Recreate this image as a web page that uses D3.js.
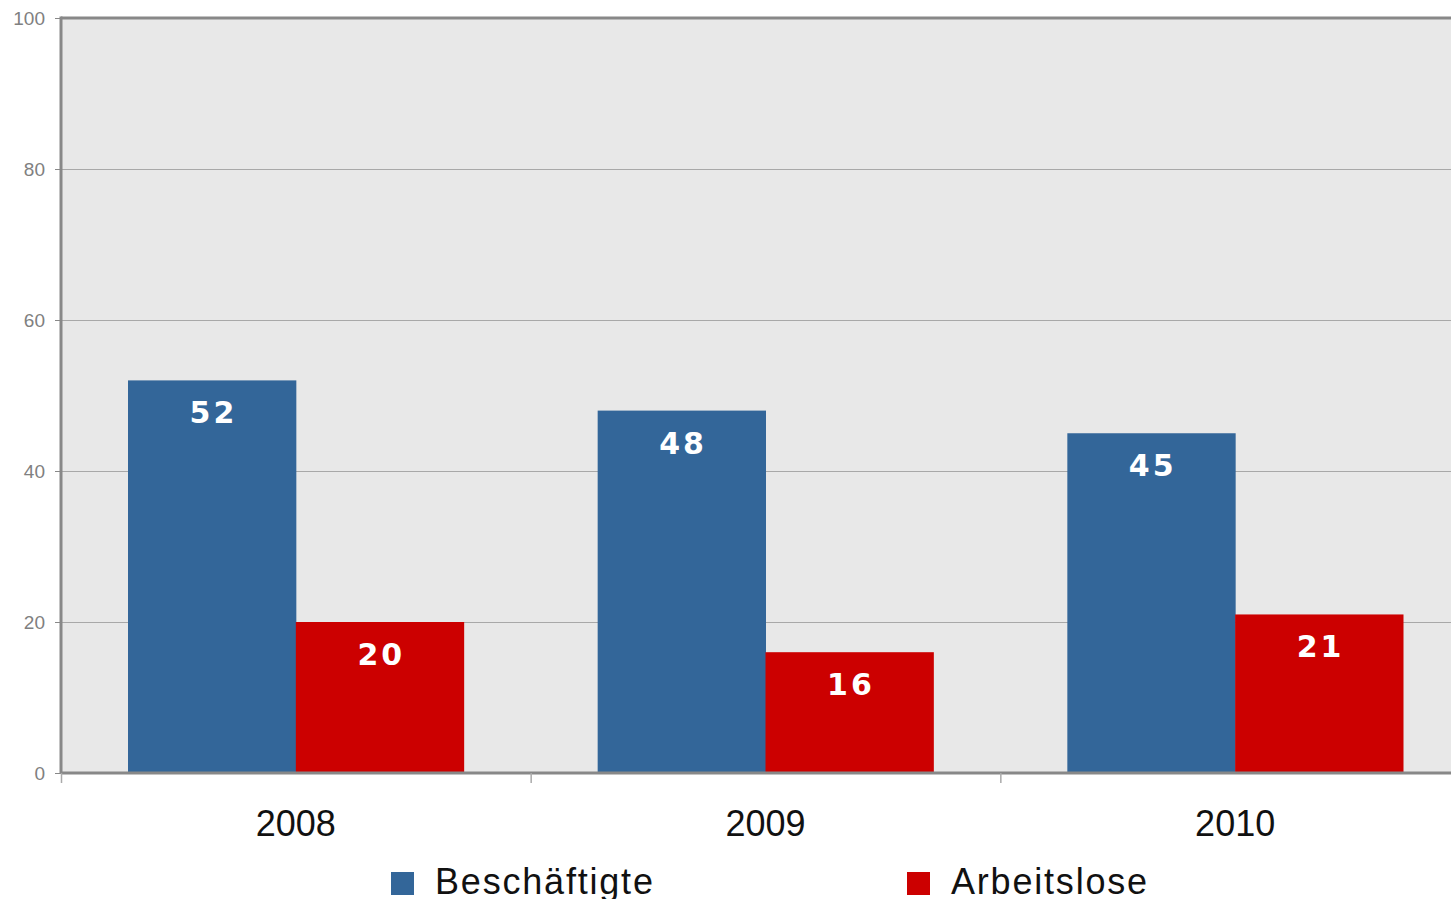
<!DOCTYPE html>
<html>
<head>
<meta charset="utf-8">
<script src="https://cdn.jsdelivr.net/npm/d3@7"></script>
<style>
  body { margin: 0; background: #fff; overflow: hidden; }
  svg { display: block; }
</style>
</head>
<body>
<div class="canvas"></div>
<script>
// data
const years = ["2008", "2009", "2010"]
const seriesNames = ["Beschäftigte", "Arbeitslose"]
const beschaeftigte = [52, 48, 45]
const arbeitslose = [20, 16, 21]
const yTicks = [0, 20, 40, 60, 80, 100]
const colors = ["#336699", "#cc0000"]

const width = 1451, height = 899
const margin = {top: 18, left: 61}
const graphWidth = 1409
const graphHeight = 755

const svg = d3.select(".canvas")
  .append("svg")
  .attr("width", width)
  .attr("height", height)

const graph = svg.append("g")
  .attr("transform", `translate(${margin.left}, ${margin.top})`)

const xScale = d3.scaleBand()
  .domain(years)
  .range([0, graphWidth])
  .paddingInner(0)
  .paddingOuter(0)

const inner = d3.scaleBand()
  .domain(seriesNames)
  .range([67, xScale.bandwidth() - 67])

const yScale = d3.scaleLinear()
  .domain([0, 100])
  .range([graphHeight, 0])

// plot background
graph.append("rect")
  .attr("width", graphWidth)
  .attr("height", graphHeight)
  .attr("fill", "#e8e8e8")

// gridlines
graph.append("g")
  .selectAll("line")
  .data(yTicks.filter(d => d > 0 && d < 100))
  .enter().append("line")
  .attr("x1", 0).attr("x2", graphWidth)
  .attr("y1", d => yScale(d) + 0.5).attr("y2", d => yScale(d) + 0.5)
  .attr("stroke", "#a8a8a8")
  .attr("stroke-width", 1)

// top border
graph.append("line")
  .attr("x1", 0).attr("x2", graphWidth)
  .attr("y1", 0).attr("y2", 0)
  .attr("stroke", "#888")
  .attr("stroke-width", 3)

// bars
const rows = years.map((y, i) => ({year: y, values: [beschaeftigte[i], arbeitslose[i]]}))

const groups = graph.selectAll(".year")
  .data(rows)
  .enter().append("g")
  .attr("transform", d => `translate(${xScale(d.year)}, 0)`)

const bars = groups.selectAll("g.bar")
  .data(d => d.values.map((v, j) => ({name: seriesNames[j], value: v, j})))
  .enter().append("g")

bars.append("rect")
  .attr("x", d => inner(d.name))
  .attr("y", d => yScale(d.value))
  .attr("width", inner.bandwidth() + 0.5)
  .attr("height", d => graphHeight - yScale(d.value))
  .attr("fill", d => colors[d.j])

bars.append("text")
  .attr("x", d => inner(d.name) + inner.bandwidth() / 2 + 1.5)
  .attr("y", d => yScale(d.value) + 43)
  .attr("text-anchor", "middle")
  .attr("fill", "#fff")
  .style("font-family", "DejaVu Sans, sans-serif")
  .style("font-weight", "bold")
  .style("font-size", "30px")
  .style("letter-spacing", "3px")
  .text(d => d.value)

// y axis
const yAxis = d3.axisLeft(yScale)
  .tickValues(yTicks)
  .tickSize(6)
  .tickPadding(10)

const yAxisGroup = graph.append("g").call(yAxis)
yAxisGroup.select(".domain").remove()
yAxisGroup.selectAll(".tick line").attr("stroke", "#888").attr("stroke-width", 1)
yAxisGroup.selectAll(".tick text")
  .attr("fill", "#808080")
  .style("font-family", "Liberation Sans, Arial, sans-serif")
  .style("font-size", "19px")

graph.append("line")
  .attr("x1", 0).attr("x2", 0)
  .attr("y1", -1.5).attr("y2", graphHeight)
  .attr("stroke", "#888")
  .attr("stroke-width", 3)

// x axis
graph.append("line")
  .attr("x1", 0).attr("x2", graphWidth)
  .attr("y1", graphHeight).attr("y2", graphHeight)
  .attr("stroke", "#888")
  .attr("stroke-width", 3)

graph.append("g")
  .selectAll("line")
  .data(years)
  .enter().append("line")
  .attr("x1", d => xScale(d) + 0.5).attr("x2", d => xScale(d) + 0.5)
  .attr("y1", graphHeight).attr("y2", graphHeight + 10)
  .attr("stroke", "#aaa")
  .attr("stroke-width", 1.5)

graph.append("g")
  .selectAll("text")
  .data(years)
  .enter().append("text")
  .attr("x", d => xScale(d) + xScale.bandwidth() / 2)
  .attr("y", graphHeight + 63)
  .attr("text-anchor", "middle")
  .attr("fill", "#111")
  .style("font-family", "Liberation Sans, Arial, sans-serif")
  .style("font-size", "36px")
  .text(d => d)

// legend
const legendX = [391, 907]
const legend = svg.selectAll(".legend")
  .data(seriesNames)
  .enter().append("g")
  .attr("transform", (d, i) => `translate(${legendX[i]}, 872)`)

legend.append("rect")
  .attr("width", 23).attr("height", 23)
  .attr("fill", (d, i) => colors[i])

legend.append("text")
  .attr("x", 44)
  .attr("y", 22)
  .attr("fill", "#111")
  .style("font-family", "Liberation Sans, Arial, sans-serif")
  .style("font-size", "36px")
  .style("letter-spacing", "1.8px")
  .text(d => d)
</script>
</body>
</html>
